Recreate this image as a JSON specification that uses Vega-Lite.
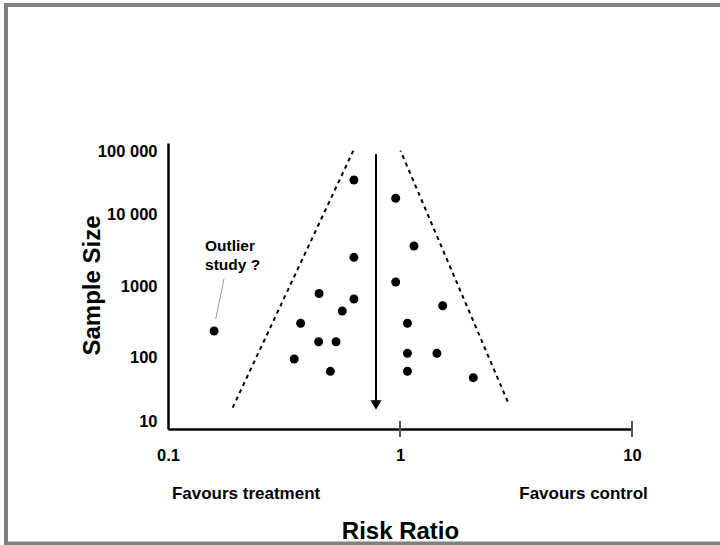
{
  "$schema": "https://vega.github.io/schema/vega-lite/v6.json",
  "width": 714,
  "height": 538.5,
  "autosize": {"type": "none"},
  "padding": {"left": 6, "top": 5, "right": 0, "bottom": 1.5},
  "background": "white",
  "view": {"stroke": "#808080", "strokeWidth": 4, "strokeDash": [714, 538.5, 1300, 0], "strokeCap": "butt"},
  "config": {
    "font": "Liberation Sans",
    "text": {"font": "Liberation Sans", "fontWeight": "bold", "color": "black"}
  },
  "encoding": {
    "x": {
      "field": "rr", "type": "quantitative",
      "scale": {"type": "log", "domain": [0.1, 10], "range": [162, 626], "nice": false},
      "axis": {
        "orient": "bottom", "offset": -114.5, "values": [0.1, 1, 10],
        "labelExpr": "datum.value < 0.5 ? '0.1' : format(datum.value, 'd')",
        "grid": false, "ticks": false, "tickSize": 0,
        "domainColor": "black", "domainWidth": 2.5,
        "labelFont": "Liberation Sans", "labelFontWeight": "bold", "labelFontSize": 16.5, "labelColor": "black",
        "labelPadding": 18, "labelFlush": false, "labelOverlap": false,
        "title": "Risk  Ratio", "titleFont": "Liberation Sans", "titleFontWeight": "bold", "titleFontSize": 24, "titleColor": "black",
        "titleBaseline": "alphabetic", "titleY": 109
      }
    },
    "y": {
      "field": "n", "type": "quantitative",
      "scale": {"type": "log", "domain": [10, 100000], "range": [424, 138], "nice": false},
      "axis": {
        "orient": "left", "offset": -162, "values": [10, 100, 1000, 10000, 100000],
        "labelExpr": "datum.value == 100000 ? '100 000' : datum.value == 10000 ? '10 000' : format(datum.value, 'd')",
        "grid": false, "ticks": false, "tickSize": 0,
        "domainColor": "black", "domainWidth": 2.5,
        "labelFont": "Liberation Sans", "labelFontWeight": "bold", "labelFontSize": 16.5, "labelColor": "black",
        "labelPadding": 11, "labelFlush": true, "labelOverlap": false,
        "title": "Sample  Size", "titleFont": "Liberation Sans", "titleFontWeight": "bold", "titleFontSize": 24, "titleColor": "black",
        "titleAngle": 270, "titleBaseline": "alphabetic", "titleAlign": "center", "titleX": -69, "titleY": 280
      }
    }
  },
  "layer": [
    {
      "data": {"values": [
        {"side": "left", "rr": 0.19, "n": 19.9, "rr2": 0.629, "n2": 78000},
        {"side": "right", "rr": 2.913, "n": 24.1, "rr2": 1.005, "n2": 78000}
      ]},
      "mark": {"type": "rule", "color": "black", "strokeWidth": 2, "strokeDash": [4, 4]},
      "encoding": {"x2": {"field": "rr2"}, "y2": {"field": "n2"}}
    },
    {
      "data": {"values": [{"rr": 0.788, "n": 70100, "n2": 24}]},
      "mark": {"type": "rule", "color": "black", "strokeWidth": 2},
      "encoding": {"y2": {"field": "n2"}}
    },
    {
      "data": {"values": [{"rr": 0.788, "n": 21.7}]},
      "mark": {"type": "point", "shape": "triangle-down", "filled": true, "color": "black", "size": 121, "opacity": 1}
    },
    {
      "data": {"values": [{"rr": 1, "n": 10}, {"rr": 10, "n": 10}]},
      "mark": {"type": "tick", "orient": "vertical", "color": "#555555", "size": 16, "thickness": 2, "opacity": 1}
    },
    {
      "data": {"values": [{"rr": 0.1743, "n": 1253, "rr2": 0.1606, "n2": 345}]},
      "mark": {"type": "rule", "color": "#999999", "strokeWidth": 1},
      "encoding": {"x2": {"field": "rr2"}, "y2": {"field": "n2"}}
    },
    {
      "data": {"values": [
        {"study": "A", "rr": 0.633, "n": 30400},
        {"study": "B", "rr": 0.958, "n": 16860},
        {"study": "C", "rr": 1.149, "n": 3625},
        {"study": "D", "rr": 0.633, "n": 2520},
        {"study": "E", "rr": 0.958, "n": 1138},
        {"study": "F", "rr": 0.448, "n": 785},
        {"study": "G", "rr": 0.633, "n": 658},
        {"study": "H", "rr": 0.564, "n": 447},
        {"study": "I", "rr": 0.373, "n": 301},
        {"study": "J", "rr": 1.077, "n": 301},
        {"study": "K", "rr": 0.158, "n": 235},
        {"study": "L", "rr": 0.446, "n": 166},
        {"study": "M", "rr": 0.53, "n": 166},
        {"study": "N", "rr": 1.077, "n": 114.5},
        {"study": "O", "rr": 1.443, "n": 114.5},
        {"study": "P", "rr": 1.528, "n": 530},
        {"study": "Q", "rr": 0.35, "n": 95.3},
        {"study": "R", "rr": 0.501, "n": 64.1},
        {"study": "S", "rr": 1.077, "n": 64.3},
        {"study": "T", "rr": 2.07, "n": 52.2}
      ]},
      "mark": {"type": "circle", "color": "black", "size": 80, "opacity": 1}
    },
    {
      "data": {"values": [
        {"label": "Outlier", "rr": 0.1444, "n": 3624},
        {"label": "study ?", "rr": 0.1444, "n": 1968}
      ]},
      "mark": {"type": "text", "align": "left", "baseline": "middle", "fontSize": 15.5},
      "encoding": {"text": {"field": "label"}}
    },
    {
      "data": {"values": [
        {"label": "Favours treatment", "rr": 0.217, "n": 10},
        {"label": "Favours control", "rr": 6.18, "n": 10}
      ]},
      "mark": {"type": "text", "align": "center", "baseline": "middle", "fontSize": 17, "dy": 65},
      "encoding": {"text": {"field": "label"}}
    }
  ]
}
